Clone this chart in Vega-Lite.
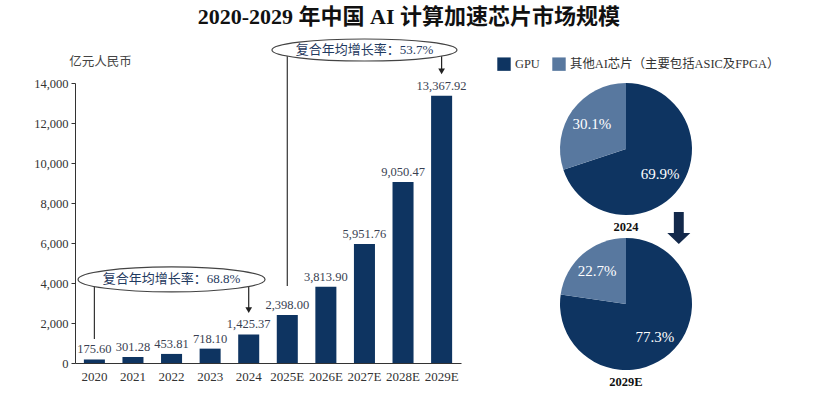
{
  "$schema": "https://vega.github.io/schema/vega-lite/v6.json",
  "background": "white",
  "padding": {"left": 33, "top": 5, "right": 5, "bottom": 0},
  "title": {
    "text": "2020-2029 年中国 AI 计算加速芯片市场规模",
    "font": "Liberation Serif, Noto Sans CJK SC",
    "fontSize": 22,
    "fontWeight": "bold",
    "color": "#111111",
    "anchor": "middle",
    "dx": 2,
    "offset": 8
  },
  "config": {
    "view": {"stroke": null},
    "font": "Liberation Serif",
    "axisY": {"title": null, "grid": false, "labelOverlap": false, "labelFlush": false, "labelFontSize": 12.5, "labelFont": "Liberation Serif", "labelColor": "#333333", "tickSize": 4, "tickColor": "#333333", "domainColor": "#333333", "labelPadding": 3},
    "axisX": {"title": null, "labelAngle": 0, "ticks": false, "labelFontSize": 13, "labelFont": "Liberation Serif", "labelColor": "#333333", "labelPadding": 7, "domainColor": "#333333"}
  },
  "bounds": "flush",
  "spacing": 99,
  "datasets": {
    "market": [
      {"year": "2020", "value": 175.60},
      {"year": "2021", "value": 301.28},
      {"year": "2022", "value": 453.81},
      {"year": "2023", "value": 718.10},
      {"year": "2024", "value": 1425.37},
      {"year": "2025E", "value": 2398.00},
      {"year": "2026E", "value": 3813.90},
      {"year": "2027E", "value": 5951.76},
      {"year": "2028E", "value": 9050.47},
      {"year": "2029E", "value": 13367.92}
    ],
    "share2024": [
      {"type": "GPU", "pct": 69.9, "label": "69.9%", "k": 1},
      {"type": "其他AI芯片（主要包括ASIC及FPGA）", "pct": 30.1, "label": "30.1%", "k": 2}
    ],
    "share2029": [
      {"type": "GPU", "pct": 77.3, "label": "77.3%", "k": 1},
      {"type": "其他AI芯片（主要包括ASIC及FPGA）", "pct": 22.7, "label": "22.7%", "k": 2}
    ],
    "one": [{"note": "annotation"}]
  },
  "hconcat": [
    {
      "width": 386,
      "height": 280,
      "data": {"name": "market"},
      "layer": [
        {
          "mark": {"type": "bar", "color": "#0e3461"},
          "encoding": {
            "x": {
              "field": "year", "type": "nominal",
              "scale": {"domain": ["2020","2021","2022","2023","2024","2025E","2026E","2027E","2028E","2029E"], "paddingInner": 0.455, "paddingOuter": 0.23}
            },
            "y": {
              "field": "value", "type": "quantitative",
              "scale": {"domain": [0, 14000], "nice": false},
              "axis": {"values": [0,2000,4000,6000,8000,10000,12000,14000], "format": ",.0f", "tickCount": 8}
            }
          }
        },
        {
          "mark": {"type": "text", "baseline": "bottom", "dy": -3, "fontSize": 12.5, "font": "Liberation Serif", "color": "#3a3f52"},
          "encoding": {
            "x": {"field": "year", "type": "nominal", "scale": {"domain": ["2020","2021","2022","2023","2024","2025E","2026E","2027E","2028E","2029E"]}},
            "y": {"field": "value", "type": "quantitative", "scale": {"domain": [0, 14000], "nice": false}, "axis": {"values": [0,2000,4000,6000,8000,10000,12000,14000], "format": ",.0f", "tickCount": 8}},
            "text": {"field": "value", "type": "quantitative", "format": ",.2f"}
          }
        },
        {
          "data": {"name": "one"},
          "mark": {"type": "text", "text": "亿元人民币", "dx": 6, "baseline": "middle", "fontSize": 12.5, "font": "Liberation Serif, Noto Sans CJK SC", "color": "#444444"},
          "encoding": {
            "x": {"datum": "2020", "type": "nominal", "scale": {"domain": ["2020","2021","2022","2023","2024","2025E","2026E","2027E","2028E","2029E"]}},
            "y": {"datum": 15050, "type": "quantitative", "scale": {"domain": [0, 14000], "nice": false}, "axis": {"values": [0,2000,4000,6000,8000,10000,12000,14000], "format": ",.0f", "tickCount": 8}}
          }
        },
        {
          "data": {"name": "one"},
          "mark": {"type": "rule", "color": "#333333", "strokeWidth": 1.2},
          "encoding": {
            "x": {"datum": "2020", "type": "nominal", "scale": {"domain": ["2020","2021","2022","2023","2024","2025E","2026E","2027E","2028E","2029E"]}},
            "y": {"datum": 4180, "type": "quantitative", "scale": {"domain": [0, 14000], "nice": false}, "axis": {"values": [0,2000,4000,6000,8000,10000,12000,14000], "format": ",.0f", "tickCount": 8}},
            "y2": {"datum": 1200}
          }
        },
        {
          "data": {"name": "one"},
          "mark": {"type": "rule", "color": "#222222", "strokeWidth": 1.2},
          "encoding": {
            "x": {"datum": "2024", "type": "nominal", "scale": {"domain": ["2020","2021","2022","2023","2024","2025E","2026E","2027E","2028E","2029E"]}},
            "y": {"datum": 4180, "type": "quantitative", "scale": {"domain": [0, 14000], "nice": false}, "axis": {"values": [0,2000,4000,6000,8000,10000,12000,14000], "format": ",.0f", "tickCount": 8}},
            "y2": {"datum": 2700}
          }
        },
        {
          "data": {"name": "one"},
          "mark": {"type": "point", "shape": "triangle-down", "size": 45, "filled": true, "color": "#222222", "opacity": 1},
          "encoding": {
            "x": {"datum": "2024", "type": "nominal", "scale": {"domain": ["2020","2021","2022","2023","2024","2025E","2026E","2027E","2028E","2029E"]}},
            "y": {"datum": 2640, "type": "quantitative", "scale": {"domain": [0, 14000], "nice": false}, "axis": {"values": [0,2000,4000,6000,8000,10000,12000,14000], "format": ",.0f", "tickCount": 8}}
          }
        },
        {
          "data": {"name": "one"},
          "mark": {"type": "rule", "color": "#333333", "strokeWidth": 1.2},
          "encoding": {
            "x": {"datum": "2025E", "type": "nominal", "scale": {"domain": ["2020","2021","2022","2023","2024","2025E","2026E","2027E","2028E","2029E"]}},
            "y": {"datum": 15650, "type": "quantitative", "scale": {"domain": [0, 14000], "nice": false}, "axis": {"values": [0,2000,4000,6000,8000,10000,12000,14000], "format": ",.0f", "tickCount": 8}},
            "y2": {"datum": 3850}
          }
        },
        {
          "data": {"name": "one"},
          "mark": {"type": "rule", "color": "#222222", "strokeWidth": 1.2},
          "encoding": {
            "x": {"datum": "2029E", "type": "nominal", "scale": {"domain": ["2020","2021","2022","2023","2024","2025E","2026E","2027E","2028E","2029E"]}},
            "y": {"datum": 15650, "type": "quantitative", "scale": {"domain": [0, 14000], "nice": false}, "axis": {"values": [0,2000,4000,6000,8000,10000,12000,14000], "format": ",.0f", "tickCount": 8}},
            "y2": {"datum": 14650}
          }
        },
        {
          "data": {"name": "one"},
          "mark": {"type": "point", "shape": "triangle-down", "size": 45, "filled": true, "color": "#222222", "opacity": 1},
          "encoding": {
            "x": {"datum": "2029E", "type": "nominal", "scale": {"domain": ["2020","2021","2022","2023","2024","2025E","2026E","2027E","2028E","2029E"]}},
            "y": {"datum": 14580, "type": "quantitative", "scale": {"domain": [0, 14000], "nice": false}, "axis": {"values": [0,2000,4000,6000,8000,10000,12000,14000], "format": ",.0f", "tickCount": 8}}
          }
        },
        {
          "data": {"name": "one"},
          "mark": {"type": "point", "shape": "M -1 0 A 1 0.134 0 1 1 1 0 A 1 0.134 0 1 1 -1 0 Z", "size": 34969, "filled": false, "fill": "white", "fillOpacity": 1, "stroke": "#444444", "strokeWidth": 1.2, "opacity": 1},
          "encoding": {
            "x": {"datum": "2022", "type": "nominal", "scale": {"domain": ["2020","2021","2022","2023","2024","2025E","2026E","2027E","2028E","2029E"]}},
            "y": {"datum": 4180, "type": "quantitative", "scale": {"domain": [0, 14000], "nice": false}, "axis": {"values": [0,2000,4000,6000,8000,10000,12000,14000], "format": ",.0f", "tickCount": 8}}
          }
        },
        {
          "data": {"name": "one"},
          "mark": {"type": "point", "shape": "M -1 0 A 1 0.119 0 1 1 1 0 A 1 0.119 0 1 1 -1 0 Z", "size": 34225, "filled": false, "fill": "white", "fillOpacity": 1, "stroke": "#444444", "strokeWidth": 1.2, "opacity": 1},
          "encoding": {
            "x": {"datum": "2027E", "type": "nominal", "scale": {"domain": ["2020","2021","2022","2023","2024","2025E","2026E","2027E","2028E","2029E"]}},
            "y": {"datum": 15650, "type": "quantitative", "scale": {"domain": [0, 14000], "nice": false}, "axis": {"values": [0,2000,4000,6000,8000,10000,12000,14000], "format": ",.0f", "tickCount": 8}}
          }
        },
        {
          "data": {"name": "one"},
          "mark": {"type": "text", "text": "复合年均增长率：68.8%", "baseline": "middle", "fontSize": 13, "font": "Liberation Serif, Noto Sans CJK SC", "color": "#1f3a60"},
          "encoding": {
            "x": {"datum": "2022", "type": "nominal", "scale": {"domain": ["2020","2021","2022","2023","2024","2025E","2026E","2027E","2028E","2029E"]}},
            "y": {"datum": 4180, "type": "quantitative", "scale": {"domain": [0, 14000], "nice": false}, "axis": {"values": [0,2000,4000,6000,8000,10000,12000,14000], "format": ",.0f", "tickCount": 8}}
          }
        },
        {
          "data": {"name": "one"},
          "mark": {"type": "text", "text": "复合年均增长率：53.7%", "baseline": "middle", "fontSize": 13, "font": "Liberation Serif, Noto Sans CJK SC", "color": "#1f3a60"},
          "encoding": {
            "x": {"datum": "2027E", "type": "nominal", "scale": {"domain": ["2020","2021","2022","2023","2024","2025E","2026E","2027E","2028E","2029E"]}},
            "y": {"datum": 15650, "type": "quantitative", "scale": {"domain": [0, 14000], "nice": false}, "axis": {"values": [0,2000,4000,6000,8000,10000,12000,14000], "format": ",.0f", "tickCount": 8}}
          }
        }
      ]
    },
    {
      "bounds": "flush",
      "spacing": 23,
      "vconcat": [
        {
          "width": 132,
          "height": 132,
          "title": {"text": "2024", "orient": "bottom", "fontSize": 12.5, "fontWeight": "bold", "font": "Liberation Serif", "color": "#111111", "offset": 6},
          "data": {"name": "share2024"},
          "layer": [
            {
              "mark": {"type": "arc"},
              "encoding": {
                "theta": {"field": "pct", "type": "quantitative", "stack": true},
                "order": {"field": "k", "type": "quantitative"},
                "color": {
                  "field": "type", "type": "nominal",
                  "scale": {"domain": ["GPU", "其他AI芯片（主要包括ASIC及FPGA）"], "range": ["#0e3461", "#58789f"]},
                  "legend": {"orient": "none", "legendX": 422, "legendY": -26, "direction": "horizontal", "title": null, "symbolType": "square", "symbolSize": 180, "symbolStrokeWidth": 0, "symbolOpacity": 1, "labelFontSize": 12.4, "labelFont": "Liberation Serif, Noto Sans CJK SC", "labelColor": "#333333", "labelLimit": 400, "columnPadding": 12, "labelOffset": 4}
                }
              }
            },
            {
              "mark": {"type": "text", "radius": 42, "fontSize": 15, "font": "Liberation Serif", "color": "white", "baseline": "middle"},
              "encoding": {
                "theta": {"field": "pct", "type": "quantitative", "stack": true},
                "order": {"field": "k", "type": "quantitative"},
                "detail": {"field": "type", "type": "nominal"},
                "text": {"field": "label", "type": "nominal"}
              }
            }
          ]
        },
        {
          "width": 132,
          "height": 132,
          "title": {"text": "2029E", "orient": "bottom", "fontSize": 12.5, "fontWeight": "bold", "font": "Liberation Serif", "color": "#111111", "offset": 6},
          "data": {"name": "share2029"},
          "layer": [
            {
              "mark": {"type": "arc"},
              "encoding": {
                "theta": {"field": "pct", "type": "quantitative", "stack": true},
                "order": {"field": "k", "type": "quantitative"},
                "color": {
                  "field": "type", "type": "nominal",
                  "scale": {"domain": ["GPU", "其他AI芯片（主要包括ASIC及FPGA）"], "range": ["#0e3461", "#58789f"]},
                  "legend": null
                }
              }
            },
            {
              "mark": {"type": "text", "radius": 44, "fontSize": 15, "font": "Liberation Serif", "color": "white", "baseline": "middle"},
              "encoding": {
                "theta": {"field": "pct", "type": "quantitative", "stack": true},
                "order": {"field": "k", "type": "quantitative"},
                "detail": {"field": "type", "type": "nominal"},
                "text": {"field": "label", "type": "nominal"}
              }
            },
            {
              "data": {"name": "one"},
              "mark": {"type": "point", "shape": "M -0.31 -1 L 0.31 -1 L 0.31 0.31 L 0.72 0.31 L 0 1 L -0.72 0.31 L -0.31 0.31 Z", "size": 1024, "filled": true, "color": "#13294b", "opacity": 1},
              "encoding": {
                "x": {"datum": 0.9, "type": "quantitative", "scale": {"domain": [0, 1], "nice": false, "zero": false}, "axis": null},
                "y": {"datum": 1.076, "type": "quantitative", "scale": {"domain": [0, 1], "nice": false, "zero": false}, "axis": null}
              }
            }
          ]
        }
      ]
    }
  ]
}
